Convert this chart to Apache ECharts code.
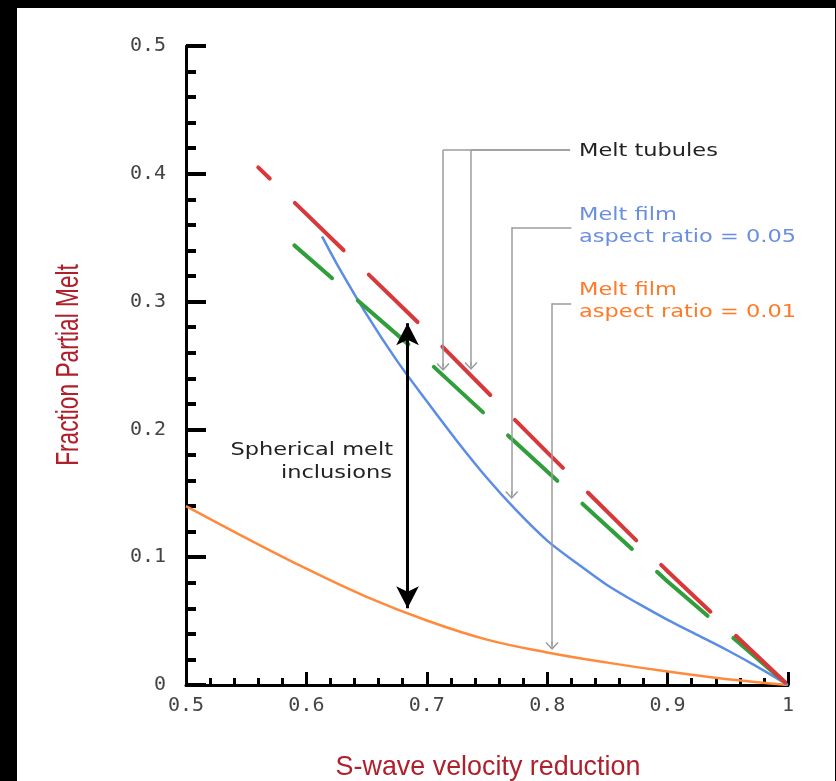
<!DOCTYPE html>
<html>
<head>
<meta charset="utf-8">
<script src="https://cdn.jsdelivr.net/npm/echarts@6/dist/echarts.min.js"></script>
<style>
html, body { margin: 0; padding: 0; background: #fff; }
#main { width: 836px; height: 781px; }
</style>
</head>
<body>
<div id="main"></div>
<script>
// values: [velocity reduction, fraction melt]
var tubulesUpper = [[0.56, 0.405], [0.70, 0.277], [0.80, 0.182], [0.90, 0.089], [1, 0]];
var tubulesLower = [[0.59, 0.344], [0.70, 0.254], [0.80, 0.167], [0.90, 0.081], [1, 0]];
var film005 = [
    [0.613, 0.351], [0.625, 0.330], [0.65, 0.290], [0.675, 0.254], [0.70, 0.222],
    [0.725, 0.191], [0.75, 0.162], [0.775, 0.136], [0.80, 0.113], [0.825, 0.095],
    [0.85, 0.078], [0.875, 0.064], [0.90, 0.051], [0.925, 0.039], [0.95, 0.027],
    [0.975, 0.014], [1, 0]
];
var film001 = [
    [0.50, 0.140], [0.55, 0.115], [0.60, 0.091], [0.65, 0.069], [0.70, 0.0505],
    [0.75, 0.0355], [0.80, 0.0255], [0.85, 0.0175], [0.90, 0.0105], [0.95, 0.0045], [1, 0]
];
// spherical inclusions arrow: x, from, to
var sphericalArrow = [0.684, 0.060, 0.283];
// leader lines: [x at label, y at label, x of drop, y of arrow tip]
var leaders = [
    [0.819, 0.4186, 0.7135, 0.2488],
    [0.819, 0.4186, 0.7367, 0.2496],
    [0.820, 0.3581, 0.7705, 0.1487],
    [0.820, 0.2987, 0.8040, 0.0305]
];

var chevron = 'path://M6,0L12,7L11,8L6,2.2L1,8L0,7Z M5.4,0.5L6.6,0.5L6.6,8L5.4,8Z';

var leaderLines = [];
leaders.forEach(function (l) {
    leaderLines.push([{coord: [l[0], l[1]], symbol: 'none'}, {coord: [l[2], l[1]], symbol: 'none'}]);
    leaderLines.push([{coord: [l[2], l[1]], symbol: 'none'}, {coord: [l[2], l[3]]}]);
});

var note = function (x, y, text, color, align) {
    return {
        type: 'text', x: x, y: y, scaleX: 1.25, z: 20,
        style: {
            text: text, fill: color, font: '18px "DejaVu Sans"',
            textAlign: align, textVerticalAlign: 'middle', align: align, verticalAlign: 'middle'
        }
    };
};

var axisName = function (x, y, text, rot, sx, sy) {
    return {
        type: 'text', x: x, y: y, rotation: rot, scaleX: sx, scaleY: sy, z: 20,
        style: {
            text: text, fill: '#b0202c', font: '28px "Liberation Sans", Arial, sans-serif',
            textAlign: 'center', textVerticalAlign: 'middle', align: 'center', verticalAlign: 'middle'
        }
    };
};

var chart = echarts.init(document.getElementById('main'));
var labelFont = {color: '#444', fontFamily: 'DejaVu Sans Mono', fontSize: 20};

option = {
    backgroundColor: '#fff',
    animation: false,
    grid: {left: 186, right: 48, top: 46, bottom: 96, outerBoundsMode: 'none'},
    xAxis: {
        type: 'value', min: 0.5, max: 1, interval: 0.1,
        axisLine: {show: true, lineStyle: {color: '#000', width: 3}},
        axisTick: {show: true, inside: true, length: 13, lineStyle: {color: '#000', width: 3}},
        minorTick: {show: true, splitNumber: 5, length: 7, lineStyle: {color: '#000', width: 3}},
        axisLabel: Object.assign({margin: 11}, labelFont),
        splitLine: {show: false}
    },
    yAxis: {
        type: 'value', min: 0, max: 0.5, interval: 0.1,
        axisLine: {show: true, lineStyle: {color: '#000', width: 3}},
        axisTick: {show: true, inside: true, length: 20, lineStyle: {color: '#000', width: 4}},
        minorTick: {show: true, splitNumber: 5, length: 10, lineStyle: {color: '#000', width: 4}},
        axisLabel: Object.assign({margin: 20}, labelFont),
        splitLine: {show: false}
    },
    graphic: [
        {type: 'rect', shape: {x: 0, y: 0, width: 17, height: 781}, style: {fill: '#000'}, z: 30},
        {type: 'rect', shape: {x: 0, y: 0, width: 836, height: 8}, style: {fill: '#000'}, z: 30},
        {type: 'rect', shape: {x: 835, y: 0, width: 1, height: 781}, style: {fill: '#000'}, z: 30},
        axisName(69, 365, 'Fraction Partial Melt', Math.PI / 2, 0.81, 1.12),
        axisName(488, 767, 'S-wave velocity reduction', 0, 0.96, 1),
        note(579, 151, 'Melt tubules', '#222', 'left'),
        note(579, 215, 'Melt film', '#6a8fe0', 'left'),
        note(579, 237, 'aspect ratio = 0.05', '#6a8fe0', 'left'),
        note(579, 290, 'Melt film', '#ff7a26', 'left'),
        note(579, 312, 'aspect ratio = 0.01', '#ff7a26', 'left'),
        note(393, 450, 'Spherical melt', '#222', 'right'),
        note(392, 473, 'inclusions', '#222', 'right')
    ],
    series: [
        {
            name: 'Melt film 0.01', type: 'line', data: film001, smooth: 0.4, showSymbol: false,
            lineStyle: {color: '#ff8a3c', width: 2.5}, z: 3
        },
        {
            name: 'Melt film 0.05', type: 'line', data: film005, smooth: 0.3, showSymbol: false,
            lineStyle: {color: '#5b8de6', width: 2.5}, z: 3
        },
        {
            name: 'Melt tubules lower', type: 'line', data: tubulesLower, showSymbol: false,
            lineStyle: {color: '#2f9e3b', width: 4, type: [67, 34], dashOffset: 17, cap: 'round'}, z: 4
        },
        {
            name: 'Melt tubules upper', type: 'line', data: tubulesUpper, showSymbol: false,
            lineStyle: {color: '#d8383a', width: 4, type: [68, 35], dashOffset: 52, cap: 'round'}, z: 4
        },
        {
            name: 'leaders', type: 'line', data: [], z: 5,
            markLine: {
                silent: true, animation: false,
                symbol: ['none', chevron], symbolSize: [13, 8],
                lineStyle: {color: '#9c9c9c', width: 1.5, type: 'solid'},
                label: {show: false},
                data: leaderLines
            }
        },
        {
            name: 'spherical', type: 'line', data: [], z: 6,
            markLine: {
                silent: true, animation: false,
                symbol: ['arrow', 'arrow'], symbolSize: [17, 22],
                lineStyle: {color: '#000', width: 3, type: 'solid'},
                itemStyle: {color: '#000'},
                label: {show: false},
                data: [[{coord: [sphericalArrow[0], sphericalArrow[1]]}, {coord: [sphericalArrow[0], sphericalArrow[2]]}]]
            }
        }
    ]
};
chart.setOption(option);
</script>
</body>
</html>
